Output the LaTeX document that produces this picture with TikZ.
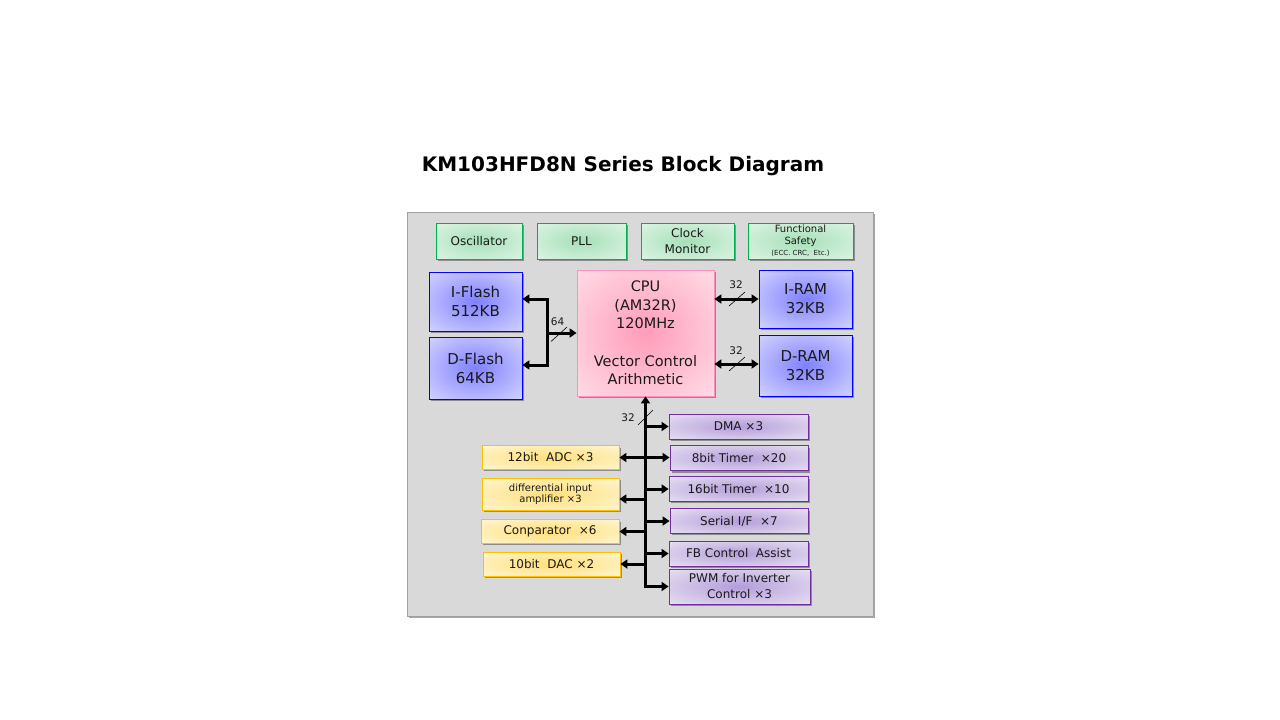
\documentclass[tikz,border=0pt]{standalone}
\usepackage{fontspec}
\setmainfont{DejaVu Sans}
\usetikzlibrary{arrows.meta,shadows,calc}
\definecolor{txt}{HTML}{1A1A1A}
\definecolor{panelfill}{HTML}{D9D9D9}
\definecolor{paneldraw}{HTML}{A0A0A0}
\definecolor{gborder}{HTML}{00B050}
\definecolor{ginner}{HTML}{A6E0B8}
\definecolor{gouter}{HTML}{E0F5E7}
\definecolor{bborder}{HTML}{0000FF}
\definecolor{binner}{HTML}{8080FF}
\definecolor{bouter}{HTML}{D8D8FF}
\definecolor{pborder}{HTML}{FF8FBF}
\definecolor{pinner}{HTML}{FF9CBA}
\definecolor{pouter}{HTML}{FFE0EA}
\definecolor{vborder}{HTML}{7030A0}
\definecolor{vinner}{HTML}{B49DDA}
\definecolor{vouter}{HTML}{EAE4F3}
\definecolor{yborder}{HTML}{FFC000}
\definecolor{yinner}{HTML}{FFE07A}
\definecolor{youter}{HTML}{FFF6D6}
\pgfdeclareradialshading{gshade}{\pgfpoint{0bp}{0bp}}{color(0bp)=(ginner); color(38bp)=(gouter); color(50bp)=(gouter)}
\pgfdeclareradialshading{bshade}{\pgfpoint{0bp}{0bp}}{color(0bp)=(binner); color(38bp)=(bouter); color(50bp)=(bouter)}
\pgfdeclareradialshading{pshade}{\pgfpoint{0bp}{0bp}}{color(0bp)=(pinner); color(38bp)=(pouter); color(50bp)=(pouter)}
\pgfdeclareradialshading{vshade}{\pgfpoint{0bp}{0bp}}{color(0bp)=(vinner); color(38bp)=(vouter); color(50bp)=(vouter)}
\pgfdeclareradialshading{yshade}{\pgfpoint{0bp}{0bp}}{color(0bp)=(yinner); color(38bp)=(youter); color(50bp)=(youter)}
\begin{document}
\begin{tikzpicture}[x=1pt,y=-1pt,
  every node/.style={text=txt},
  box/.style={draw, line width=0.8pt, align=center, inner sep=0pt,
    drop shadow={shadow xshift=2pt,shadow yshift=-2pt,opacity=0.35,fill=black}},
  greenbox/.style={box, draw=gborder, shade, shading=gshade,
    font=\fontsize{12}{16}\selectfont},
  memblock/.style={box, draw=bborder, shade, shading=bshade,
    font=\fontsize{15}{19}\selectfont},
  cpubox/.style={box, draw=pborder, shade, shading=pshade,
    font=\fontsize{14.5}{18.5}\selectfont},
  purplebox/.style={box, draw=vborder, shade, shading=vshade,
    font=\fontsize{12}{16}\selectfont},
  yellowbox/.style={box, draw=yborder, shade, shading=yshade,
    font=\fontsize{12}{16}\selectfont},
  busline/.style={line width=3pt, draw=black},
  tipR/.style={-{Triangle[length=7pt,width=9pt]}},
  tipL/.style={{Triangle[length=7pt,width=9pt]}-},
  tipLR/.style={{Triangle[length=7pt,width=9pt]}-{Triangle[length=7pt,width=9pt]}},
  slashline/.style={line width=0.6pt, draw=black},
  buslabel/.style={font=\fontsize{10.5}{12}\selectfont, inner sep=0pt}
]
\useasboundingbox (0,0) rectangle (1280,720);

\node[font=\fontsize{20}{24}\selectfont\bfseries, text=black] (title) at (623,166) {KM103HFD8N Series Block Diagram};

\node[draw=paneldraw, fill=panelfill, line width=0.8pt, minimum width=466pt, minimum height=404pt,
  drop shadow={shadow xshift=2pt,shadow yshift=-2pt,opacity=0.35,fill=black}] (panel) at (640,414) {};

% top row
\node[greenbox, minimum width=86pt, minimum height=36pt] (osc) at (479,241) {Oscillator};
\node[greenbox, minimum width=89pt, minimum height=36pt] (pll) at (581.5,241) {PLL};
\node[greenbox, minimum width=93pt, minimum height=36pt] (clk) at (687.5,241) {Clock\\Monitor};
\node[greenbox, minimum width=105pt, minimum height=36pt, font=\fontsize{10}{12}\selectfont] (fs) at (800.5,241)
  {Functional\\Safety\\[-1pt]{\fontsize{7}{8}\selectfont(ECC. CRC,\ \ Etc.)}};

% memory and CPU
\node[memblock, minimum width=93pt, minimum height=59pt] (iflash) at (475.5,301.5) {I-Flash\\512KB};
\node[memblock, minimum width=93pt, minimum height=62pt] (dflash) at (475.5,368) {D-Flash\\64KB};
\node[cpubox, minimum width=137pt, minimum height=126pt] (cpu) at (645.5,333)
  {CPU\\(AM32R)\\120MHz\\[19pt]Vector Control\\Arithmetic};
\node[memblock, minimum width=93pt, minimum height=58pt] (iram) at (805.5,299) {I-RAM\\32KB};
\node[memblock, minimum width=93pt, minimum height=61pt] (dram) at (805.5,365.5) {D-RAM\\32KB};

% peripherals right
\node[purplebox, minimum width=139pt, minimum height=25pt] (dma) at (738.5,426.5) {DMA ×3};
\node[purplebox, minimum width=138pt, minimum height=25pt] (tim8) at (739,458) {8bit Timer \ ×20};
\node[purplebox, minimum width=139pt, minimum height=24.5pt] (tim16) at (738.5,489) {16bit Timer \ ×10};
\node[purplebox, minimum width=138pt, minimum height=24.5pt] (sif) at (739,521) {Serial I/F \ ×7};
\node[purplebox, minimum width=139pt, minimum height=25pt] (fbc) at (738.5,553.5) {FB Control \ Assist};
\node[purplebox, minimum width=141pt, minimum height=35pt] (pwm) at (739.5,586.5) {PWM for Inverter\\Control ×3};

% peripherals left
\node[yellowbox, minimum width=137pt, minimum height=23.5pt] (adc) at (550.5,457.5) {12bit \ ADC ×3};
\node[yellowbox, minimum width=137pt, minimum height=32pt, font=\fontsize{10}{11.5}\selectfont] (amp) at (550.5,494) {differential input\\amplifier ×3};
\node[yellowbox, minimum width=138pt, minimum height=23.5pt] (cmp) at (550,531.5) {Conparator \ ×6};
\node[yellowbox, minimum width=137pt, minimum height=24pt] (dac) at (551.5,564) {10bit \ DAC ×2};

% flash bus
\coordinate (fj) at (547,333);
\draw[busline, tipLR] ([yshift=2.5pt]iflash.east) -- ([yshift=2.5pt]iflash.east -| fj) -- ([yshift=3pt]dflash.east -| fj) -- ([yshift=3pt]dflash.east);
\draw[busline, tipR] (fj) -- (cpu.west |- fj);
\coordinate (s64a) at (551,341.5);
\coordinate (s64b) at (567,327);
\draw[slashline] (s64a) -- (s64b);
\node[buslabel] (l64) at (557.5,321.5) {64};

% RAM buses
\draw[busline, tipLR] (cpu.east |- iram.west) -- (iram.west);
\coordinate (s32a) at (729,306);
\coordinate (s32b) at (745,292);
\draw[slashline] (s32a) -- (s32b);
\node[buslabel] (l32a) at (736,285) {32};
\draw[busline, tipLR] ([yshift=1.5pt]cpu.east |- dram.west) -- ([yshift=1.5pt]dram.west);
\coordinate (s32c) at (729,371);
\coordinate (s32d) at (745,357);
\draw[slashline] (s32c) -- (s32d);
\node[buslabel] (l32b) at (736,351) {32};

% peripheral bus
\draw[busline, tipLR] (cpu.south) -- (cpu.south |- pwm.west) -- (pwm.west);
\coordinate (s32e) at (638,425);
\coordinate (s32f) at (653,410);
\draw[slashline] (s32e) -- (s32f);
\node[buslabel] (l32c) at (628,418) {32};
\draw[busline, tipR] (cpu.south |- dma.west) -- (dma.west);
\draw[busline, tipLR] (adc.east) -- (tim8.west |- adc.east);
\draw[busline, tipR] (cpu.south |- tim16.west) -- (tim16.west);
\draw[busline, tipR] (cpu.south |- sif.west) -- (sif.west);
\draw[busline, tipR] (cpu.south |- fbc.west) -- (fbc.west);
\draw[busline, tipL] ([yshift=-5pt]amp.east) -- ([yshift=-5pt]amp.east -| cpu.south);
\draw[busline, tipL] (cmp.east) -- (cmp.east -| cpu.south);
\draw[busline, tipL] (dac.east) -- (dac.east -| cpu.south);
\end{tikzpicture}
\end{document}
